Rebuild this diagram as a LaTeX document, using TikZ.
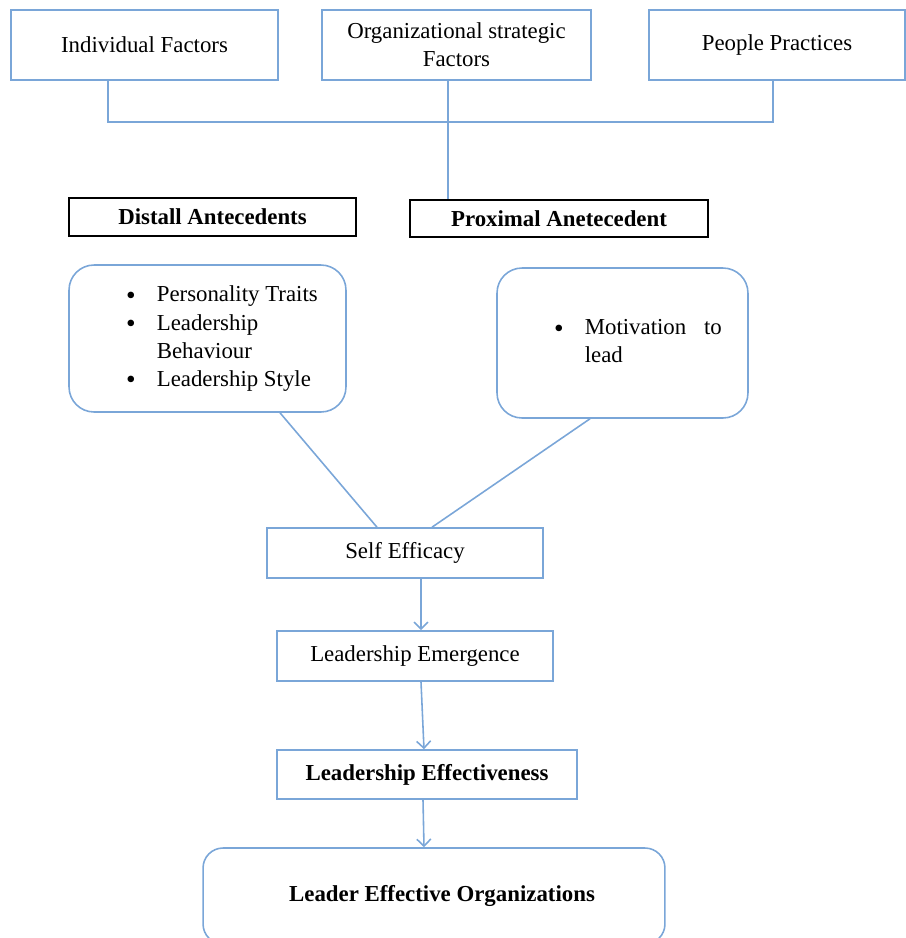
\documentclass[tikz,border=0pt]{standalone}
\usepackage{fontspec}
\setmainfont{Liberation Serif}
\usetikzlibrary{arrows.meta}
\definecolor{lineblue}{RGB}{122,166,216}
\newcommand{\bt}{\raisebox{-0.25ex}{\scalebox{1.2}{\textbullet}}}

\begin{document}
\begin{tikzpicture}[x=0.02cm,y=-0.02cm,
    font=\fontsize{13}{16}\selectfont,
    bluebox/.style={draw=lineblue,line width=0.9pt,align=center,inner sep=0pt},
    roundbox/.style={bluebox,rounded corners=0.5cm},
    headbox/.style={draw=black,line width=0.9pt,font=\fontsize{13}{16}\selectfont\bfseries,inner sep=0pt},
    link/.style={draw=lineblue,line width=0.9pt},
    flow/.style={link,-{Straight Barb[length=4pt,width=8pt]}}]
    \useasboundingbox (0,0) rectangle (906,938);
    \node[bluebox,minimum width=5.34cm,minimum height=1.4cm] (indiv) at (144.5,45) {Individual Factors};
    \node[bluebox,minimum width=5.38cm,minimum height=1.4cm] (org) at (456.5,45) {Organizational strategic\\Factors};
    \node[bluebox,minimum width=5.12cm,minimum height=1.4cm] (people) at (777,45) {People Practices};
    \coordinate (jl) at (108,122);
    \coordinate (jm) at (448,122);
    \coordinate (jr) at (773,122);
    \draw[link] (indiv.south -| jl) -- (jl) -- (jr) -- (people.south -| jr);
    \node[headbox,minimum width=5.74cm,minimum height=0.76cm] (distal) at (212.5,217) {Distall Antecedents};
    \node[headbox,minimum width=5.96cm,minimum height=0.74cm] (prox) at (559,218.5) {Proximal Anetecedent};
    \draw[link] (org.south -| jm) -- (prox.north -| jm);
    \node[roundbox,minimum width=5.54cm,minimum height=2.94cm] (distlist) at (207.5,338.5)
      {\hspace*{0.58cm}\fontsize{13}{16}\selectfont\begin{tabular}{@{}l@{\hspace{0.42cm}}l@{}}
        \bt & Personality Traits\\
        \bt & Leadership\\
            & Behaviour\\
        \bt & Leadership Style
      \end{tabular}};
    \node[roundbox,minimum width=5.02cm,minimum height=3.0cm] (proxlist) at (622.5,343)
      {\hspace*{0.62cm}\fontsize{13}{16}\selectfont\begin{tabular}{@{}l@{\hspace{0.42cm}}p{2.74cm}@{}}
        \bt & Motivation\hfill to\\
            & lead
      \end{tabular}};
    \node[bluebox,minimum width=5.52cm,minimum height=1.0cm] (self) at (405,553) {Self Efficacy};
    \draw[link] ([xshift=1.45cm]distlist.south) -- ([xshift=-0.56cm]self.north);
    \draw[link] ([xshift=-0.65cm]proxlist.south) -- ([xshift=0.54cm]self.north);
    \node[bluebox,minimum width=5.52cm,minimum height=1.0cm] (emerg) at (415,656) {Leadership Emergence};
    \draw[flow] ([xshift=0.32cm]self.south) -- ([xshift=0.12cm]emerg.north);
    \node[bluebox,minimum width=6.0cm,minimum height=0.98cm,font=\fontsize{13}{16}\selectfont\bfseries] (effect) at (427,774.5) {Leadership Effectiveness};
    \draw[flow] ([xshift=0.12cm]emerg.south) -- ([xshift=-0.06cm]effect.north);
    \node[roundbox,rounded corners=0.4cm,minimum width=9.24cm,minimum height=1.92cm,font=\fontsize{13}{16}\selectfont\bfseries] (leadorg) at (434,896) {\hspace*{0.32cm}Leader Effective Organizations};
    \draw[flow] ([xshift=-0.08cm]effect.south) -- ([xshift=-0.2cm]leadorg.north);
\end{tikzpicture}
\end{document}
